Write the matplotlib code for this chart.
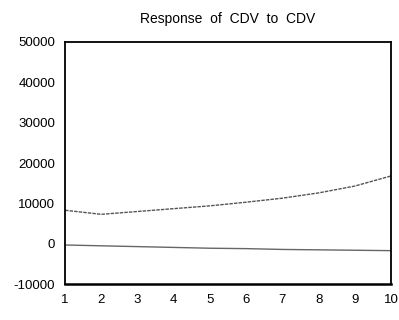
import numpy as np
import matplotlib.pyplot as plt

plt.rcParams['font.family'] = ['Liberation Sans', 'DejaVu Sans']
plt.rcParams['axes.unicode_minus'] = False

# Impulse response
periods = np.arange(1, 11)
upper = [8300, 7300, 8000, 8700, 9400, 10300, 11300, 12600, 14300, 16800]
lower = [-300, -500, -700, -900, -1100, -1200, -1400, -1500, -1600, -1700]
y_ticks = [-10000, 0, 10000, 20000, 30000, 40000, 50000]

fig = plt.figure(figsize=(3.99, 3.2), dpi=100)
ax = fig.add_axes([0.163, 0.112, 0.817, 0.757])

ax.plot(periods, upper, color='#555555', linewidth=1.0, linestyle=(0, (2.5, 0.8)))
ax.plot(periods, lower, color='#666666', linewidth=1.0)

ax.set_xlim(1, 10)
ax.set_ylim(-10000, 50000)
ax.set_xticks(periods)
ax.set_yticks(y_ticks)
ax.tick_params(length=0, labelsize=9.5, pad=7)
for side in ['left', 'right', 'top', 'bottom']:
    ax.spines[side].set_linewidth(1.3)
ax.spines['bottom'].set_linewidth(1.8)

fig.text(0.57, 0.94, 'Response  of  CDV  to  CDV', ha='center', va='center', fontsize=10)

plt.savefig('out.png', dpi=100)
